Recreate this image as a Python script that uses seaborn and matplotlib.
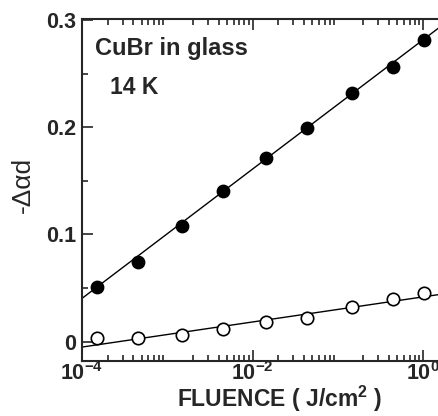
import matplotlib.pyplot as plt
import seaborn as sns
import numpy as np
import pandas as pd
from matplotlib.ticker import LogLocator, MultipleLocator, NullFormatter

# Data
fluence = [1.5e-4, 4.5e-4, 1.5e-3, 4.5e-3, 1.45e-2, 4.4e-2, 0.145, 0.45, 1.02]
filled_vals = [0.051, 0.0745, 0.108, 0.141, 0.171, 0.199, 0.232, 0.256, 0.281]
open_vals = [0.003, 0.0037, 0.0059, 0.0115, 0.0183, 0.0224, 0.0326, 0.0394, 0.0457]

# straight fit lines in log10(fluence): value = intercept + slope * (log10 F + 4)
fit_intercept = [0.0404, -0.005]
fit_slope = [0.0603, 0.0117]

sns.set_style("ticks")
plt.rcParams["font.family"] = ["Liberation Sans", "DejaVu Sans"]
plt.rcParams["mathtext.fontset"] = "custom"
plt.rcParams["mathtext.rm"] = "Liberation Sans:bold"
plt.rcParams["mathtext.bf"] = "Liberation Sans:bold"

df = pd.DataFrame({"fluence": fluence, "filled": filled_vals, "open": open_vals})

# axes run a little past the right edge of the picture (cropped figure)
xmax = 10 ** 0.22
fig = plt.figure(figsize=(4.39, 4.16), dpi=100)
ax = fig.add_axes([0.1868, 0.1322, 0.8196, 0.8221])

xf = np.logspace(-4, np.log10(xmax), 50)
for b, m in zip(fit_intercept, fit_slope):
    sns.lineplot(x=xf, y=b + m * (np.log10(xf) + 4), ax=ax, color="black", lw=1.0)

sns.scatterplot(data=df, x="fluence", y="filled", ax=ax, color="black",
                edgecolor="black", s=80, linewidth=1.0, zorder=3)
sns.scatterplot(data=df, x="fluence", y="open", ax=ax, facecolor="white",
                edgecolor="black", s=80, linewidth=1.2, zorder=3)

ax.set_xscale("log")
ax.set_xlim(1e-4, xmax)
ax.set_ylim(-0.018, 0.301)

ax.xaxis.set_major_locator(LogLocator(base=10, numticks=10))
ax.xaxis.set_minor_locator(LogLocator(base=10, subs=np.arange(2, 10), numticks=10))
ax.xaxis.set_minor_formatter(NullFormatter())
ax.set_xticks([1e-4, 1e-2, 1e0])
ax.set_xticklabels([r"$\mathbf{10^{-4}}$", r"$\mathbf{10^{-2}}$", r"$\mathbf{10^{0}}$"])
ax.yaxis.set_major_locator(MultipleLocator(0.1))
ax.yaxis.set_minor_locator(MultipleLocator(0.05))
ax.set_yticks([0, 0.1, 0.2, 0.3])
ax.set_yticklabels(["0", "0.1", "0.2", "0.3"])

ax.tick_params(which="both", direction="in", top=True, right=False, width=1.2)
ax.tick_params(which="major", length=8, labelsize=15.5, pad=4)
ax.tick_params(axis="x", which="major", pad=1)
ax.tick_params(which="minor", length=4)
for lab in ax.get_xticklabels() + ax.get_yticklabels():
    lab.set_fontweight("bold")
for sp in ax.spines.values():
    sp.set_linewidth(1.5)

ax.set_xlabel(r"FLUENCE ( J/cm$^2$ )", fontsize=16.5, fontweight="bold", va="center")
ax.xaxis.set_label_coords(0.55, -0.11)
ax.set_ylabel("-Δαd", fontsize=19, va="center")
ax.yaxis.set_label_coords(-0.165, 0.515)

ax.text(0.035, 0.915, "CuBr in glass", transform=ax.transAxes, fontsize=17,
        fontweight="bold", va="center")
ax.text(0.077, 0.8, "14 K", transform=ax.transAxes, fontsize=16.5,
        fontweight="bold", va="center")

fig.savefig("out.png", dpi=100)
